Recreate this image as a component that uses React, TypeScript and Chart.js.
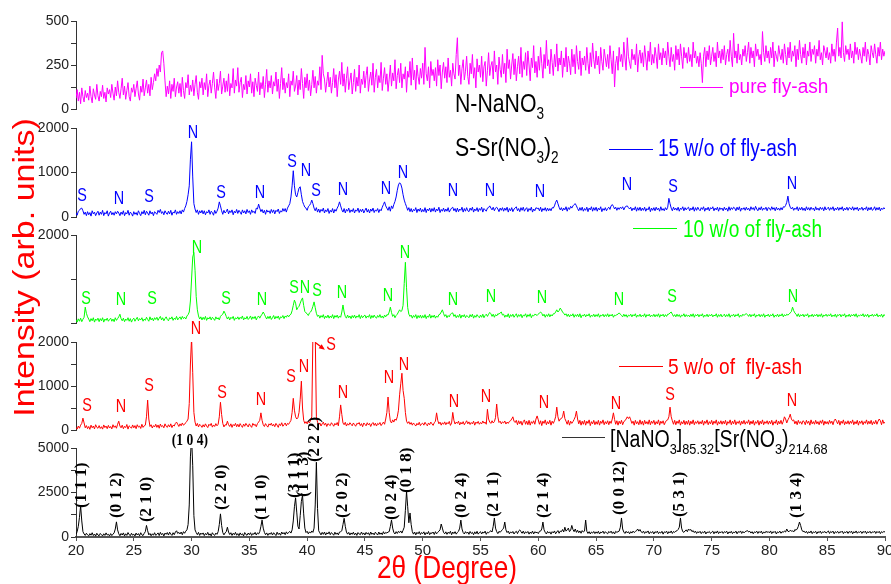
import React, { useEffect, useRef } from 'react';
import { Chart, registerables } from 'chart.js';

Chart.register(...registerables);

// ---- sampling grid (2θ, degrees) ----
const START = 20;
const STEP = 0.1;

// ---- tick labels ----
const xTicks = [20, 25, 30, 35, 40, 45, 50, 55, 60, 65, 70, 75, 80, 85, 90];
const pinkTicks = [0, 250, 500];
const blueTicks = [0, 1000, 2000];
const greenTicks = [2000];
const redTicks = [0, 1000, 2000];
const blackTicks = [0, 2500, 5000];

// ---- series values, one row per degree (x.0 ... x.9) ----
const pureFlyAsh = [
  60, 110, 45, 95, 30, 120, 70, 40, 105, 65,
  90, 50, 130, 70, 35, 115, 80, 55, 140, 75,
  45, 100, 70, 135, 60, 95, 40, 120, 85, 110,
  65, 140, 90, 50, 125, 75, 160, 95, 60, 115,
  175, 80, 130, 55, 105, 150, 70, 45, 120, 95,
  140, 70, 115, 160, 85, 50, 130, 95, 170, 75,
  120, 165, 90, 140, 75, 180, 110, 150, 200, 160,
  230, 185, 250, 210, 320, 330, 260, 160, 70, 130,
  85, 160, 60, 140, 100, 175, 70, 125, 155, 90,
  145, 70, 180, 105, 60, 150, 120, 195, 80, 135,
  100, 165, 75, 140, 190, 95, 55, 155, 120, 175,
  80, 150, 110, 200, 70, 135, 165, 90, 145, 210,
  120, 60, 170, 105, 145, 215, 85, 130, 175, 95,
  160, 100, 200, 75, 145, 120, 230, 90, 165, 130,
  235, 95, 150, 180, 65, 140, 110, 190, 85, 160,
  125, 200, 90, 155, 70, 175, 135, 100, 210, 80,
  150, 115, 185, 65, 140, 225, 95, 160, 120, 190,
  85, 155, 130, 210, 100, 170, 60, 145, 235, 110,
  175, 90, 150, 120, 200, 70, 160, 135, 215, 100,
  130, 190, 80, 165, 110, 230, 145, 60, 180, 120,
  200, 105, 165, 75, 140, 220, 120, 185, 90, 160,
  135, 240, 110, 305, 200, 170, 95, 155, 210, 125,
  180, 90, 150, 230, 120, 195, 70, 165, 215, 140,
  265, 130, 200, 95, 175, 240, 110, 160, 205, 85,
  150, 225, 100, 180, 130, 250, 90, 170, 140, 215,
  120, 190, 240, 100, 165, 210, 135, 260, 95, 180,
  225, 120, 190, 150, 265, 105, 175, 235, 140, 200,
  100, 170, 250, 130, 205, 160, 280, 115, 190, 230,
  150, 260, 120, 200, 170, 240, 95, 215, 180, 270,
  135, 290, 165, 220, 110, 250, 185, 140, 230, 175,
  260, 140, 350, 200, 160, 240, 120, 270, 190, 225,
  160, 235, 130, 280, 190, 250, 115, 210, 265, 175,
  240, 150, 290, 180, 220, 130, 260, 200, 170, 310,
  405, 190, 250, 140, 230, 280, 165, 215, 300, 185,
  140, 260, 200, 310, 175, 235, 120, 285, 210, 250,
  180, 300, 155, 240, 270, 130, 220, 320, 190, 245,
  270, 170, 330, 210, 250, 140, 295, 225, 180, 310,
  200, 260, 150, 340, 230, 280, 170, 250, 315, 195,
  285, 160, 240, 300, 200, 350, 180, 270, 225, 320,
  190, 330, 250, 160, 290, 235, 360, 205, 270, 180,
  300, 220, 350, 260, 175, 310, 230, 390, 245, 280,
  200, 340, 265, 190, 310, 240, 370, 215, 290, 250,
  330, 180, 290, 240, 350, 210, 300, 260, 195, 340,
  240, 310, 200, 360, 270, 225, 330, 190, 290, 250,
  300, 220, 350, 260, 200, 320, 240, 375, 280, 230,
  330, 250, 300, 200, 350, 270, 220, 340, 290, 240,
  310, 230, 360, 280, 200, 330, 125, 260, 300, 220,
  350, 270, 310, 240, 380, 290, 220, 405, 300, 260,
  230, 340, 280, 310, 250, 370, 210, 300, 335, 260,
  320, 240, 360, 290, 220, 330, 270, 380, 250, 310,
  260, 350, 300, 230, 370, 280, 320, 250, 345, 290,
  330, 250, 380, 300, 240, 350, 270, 310, 220, 360,
  280, 340, 250, 370, 300, 230, 350, 290, 320, 260,
  350, 270, 310, 240, 380, 290, 330, 260, 300, 240,
  320, 260, 150, 300, 350, 240, 330, 280, 360, 250,
  300, 350, 270, 320, 240, 380, 290, 330, 260, 340,
  280, 360, 250, 310, 340, 270, 390, 300, 240, 430,
  290, 330, 260, 370, 280, 310, 250, 340, 300, 360,
  270, 320, 380, 260, 350, 290, 330, 240, 370, 300,
  340, 280, 310, 250, 440, 320, 270, 360, 290, 330,
  260, 350, 290, 380, 240, 330, 300, 270, 360, 310,
  280, 340, 260, 370, 310, 250, 350, 290, 380, 270,
  330, 300, 360, 240, 340, 280, 390, 310, 260, 350,
  290, 370, 250, 330, 300, 380, 270, 340, 310, 360,
  260, 340, 300, 390, 280, 320, 250, 360, 330, 290,
  350, 280, 320, 260, 370, 300, 340, 270, 380, 460,
  300, 350, 290, 495, 320, 270, 360, 310, 340, 280,
  370, 290, 330, 260, 380, 310, 350, 280, 340, 300,
  260, 350, 300, 380, 270, 340, 310, 250, 360, 320,
  290, 370, 310, 260, 350, 300, 380, 280, 340, 300,
  330,
];

const fly15 = [
  90, 40, 130, 150, 190, 200, 140, 60, 110, 30,
  120, 50, 100, 20, 140, 70, 110, 30, 90, 130,
  40, 110, 60, 150, 30, 100, 70, 140, 20, 90,
  130, 50, 100, 40, 120, 70, 130, 90, 30, 110,
  60, 140, 30, 100, 70, 150, 40, 110, 80, 20,
  120, 60, 100, 40, 140, 80, 30, 120, 70, 150,
  50, 130, 90, 40, 140, 70, 110, 30, 120, 90,
  60, 150, 100, 170, 80, 120, 50, 140, 90, 60,
  130, 70, 150, 40, 110, 90, 160, 60, 120, 80,
  140, 70, 160, 110, 190, 250, 350, 500, 700, 1300,
  1690, 900, 300, 180, 100, 160, 60, 140, 90, 150,
  70, 140, 50, 120, 90, 160, 60, 130, 100, 40,
  150, 80, 130, 200, 340, 250, 140, 60, 150, 90,
  120, 180, 70, 140, 100, 160, 50, 130, 90, 170,
  80, 150, 110, 60, 160, 90, 140, 70, 170, 100,
  140, 60, 160, 100, 130, 80, 200, 180, 290, 200,
  120, 170, 90, 150, 60, 160, 110, 140, 80, 170,
  100, 160, 70, 150, 120, 180, 80, 140, 110, 190,
  130, 190, 110, 200, 250, 300, 450, 700, 1040, 700,
  500, 450, 550, 650, 680, 500, 350, 280, 220, 200,
  150, 230, 260, 300, 380, 300, 200, 140, 210, 110,
  180, 100, 170, 130, 200, 90, 160, 120, 190, 80,
  150, 110, 190, 90, 170, 130, 200, 250, 340, 250,
  160, 110, 190, 90, 170, 130, 200, 100, 160, 120,
  190, 90, 160, 130, 200, 100, 170, 120, 180, 90,
  150, 200, 110, 170, 90, 180, 130, 200, 100, 160,
  130, 190, 100, 170, 140, 220, 280, 340, 250, 200,
  150, 230, 130, 250, 190, 280, 350, 450, 600, 720,
  770, 740, 650, 500, 380, 300, 230, 150, 210, 120,
  190, 110, 170, 140, 210, 100, 180, 130, 200, 110,
  170, 120, 210, 100, 180, 140, 200, 110, 190, 130,
  210, 110, 180, 140, 220, 100, 170, 130, 200, 120,
  180, 130, 210, 110, 160, 200, 220, 140, 190, 110,
  200, 120, 180, 150, 220, 110, 190, 130, 210, 140,
  120, 200, 150, 220, 110, 180, 140, 210, 120, 190,
  150, 220, 110, 190, 160, 130, 200, 210, 250, 200,
  160, 220, 140, 200, 220, 180, 120, 200, 150, 210,
  130, 200, 150, 220, 110, 190, 140, 210, 120, 180,
  200, 230, 140, 190, 120, 210, 150, 220, 130, 180,
  210, 120, 190, 150, 220, 110, 180, 140, 210, 190,
  200, 140, 220, 120, 190, 150, 210, 130, 200, 140,
  190, 140, 210, 200, 250, 330, 380, 300, 220, 160,
  210, 140, 200, 160, 230, 130, 210, 170, 240, 200,
  250, 280, 300, 250, 190, 140, 210, 150, 220, 130,
  190, 150, 220, 120, 200, 160, 230, 130, 210, 150,
  220, 130, 200, 160, 230, 120, 190, 150, 210, 140,
  190, 220, 170, 250, 280, 240, 180, 220, 150, 210,
  170, 220, 190, 230, 160, 220, 240, 250, 210, 180,
  220, 140, 200, 160, 230, 130, 210, 150, 220, 140,
  200, 150, 220, 130, 190, 160, 230, 120, 200, 150,
  210, 140, 220, 160, 200, 130, 230, 150, 190, 140,
  210, 160, 220, 420, 300, 200, 140, 220, 160, 200,
  150, 220, 130, 200, 170, 230, 140, 210, 160, 200,
  220, 140, 200, 160, 230, 130, 210, 150, 220, 170,
  140, 210, 170, 230, 130, 200, 160, 220, 140, 210,
  180, 230, 140, 200, 160, 220, 130, 210, 170, 200,
  140, 220, 160, 200, 130, 230, 150, 210, 170, 220,
  200, 140, 220, 160, 230, 130, 200, 170, 210, 150,
  220, 160, 200, 140, 230, 170, 210, 150, 240, 180,
  140, 210, 160, 230, 150, 200, 170, 220, 140, 210,
  200, 150, 230, 170, 210, 140, 220, 160, 200, 150,
  210, 160, 230, 220, 260, 330, 470, 300, 220, 180,
  220, 150, 200, 170, 230, 140, 210, 160, 220, 150,
  200, 140, 230, 160, 210, 150, 220, 170, 200, 140,
  230, 160, 200, 150, 220, 170, 210, 140, 230, 160,
  190, 220, 150, 210, 170, 230, 140, 200, 160, 220,
  150, 210, 170, 230, 140, 200, 160, 220, 150, 210,
  200, 160, 230, 150, 210, 170, 220, 140, 200, 170,
  220, 150, 200, 170, 230, 140, 210, 160, 220, 150,
  170, 230, 150, 210, 160, 220, 140, 200, 170, 210,
  180,
];

const fly10 = [
  70, 20, 95, 40, 110, 30, 85, 130, 360, 220,
  140, 90, 30, 100, 50, 120, 20, 90, 60, 110,
  30, 100, 50, 120, 20, 90, 60, 110, 40, 80,
  110, 40, 90, 30, 120, 60, 100, 140, 200, 100,
  50, 110, 30, 90, 60, 120, 40, 100, 20, 80,
  110, 40, 90, 130, 50, 100, 70, 120, 40, 90,
  60, 130, 80, 40, 140, 70, 110, 50, 120, 80,
  130, 60, 110, 150, 70, 120, 50, 100, 140, 80,
  50, 120, 90, 140, 60, 110, 80, 150, 70, 110,
  140, 80, 150, 100, 130, 90, 160, 190, 250, 500,
  1000, 1500, 1600, 1200, 600, 300, 160, 90, 140, 70,
  130, 80, 150, 60, 120, 90, 140, 70, 130, 100,
  60, 140, 90, 120, 70, 150, 180, 200, 270, 220,
  150, 90, 140, 70, 130, 100, 150, 60, 120, 90,
  140, 80, 130, 100, 160, 70, 120, 90, 150, 80,
  110, 160, 80, 140, 100, 150, 70, 130, 160, 110,
  160, 200, 250, 200, 140, 90, 150, 100, 160, 80,
  120, 170, 90, 150, 110, 160, 80, 140, 120, 170,
  100, 160, 130, 180, 140, 180, 200, 280, 400, 520,
  450, 300, 350, 380, 450, 520, 570, 400, 260, 230,
  210, 170, 230, 250, 300, 380, 480, 350, 220, 150,
  180, 110, 170, 130, 190, 100, 160, 120, 180, 110,
  160, 120, 190, 100, 170, 130, 180, 110, 160, 130,
  250, 410, 250, 150, 110, 180, 120, 160, 100, 170,
  120, 180, 110, 160, 130, 190, 100, 170, 120, 160,
  180, 110, 160, 130, 190, 100, 170, 120, 180, 130,
  110, 170, 130, 190, 120, 160, 110, 180, 140, 190,
  180, 250, 360, 240, 150, 190, 120, 170, 200, 250,
  300, 260, 280, 400, 900, 1380, 800, 350, 200, 150,
  180, 110, 170, 130, 190, 100, 170, 120, 180, 110,
  170, 120, 190, 100, 160, 130, 200, 110, 170, 130,
  180, 110, 160, 130, 190, 200, 250, 300, 220, 150,
  190, 120, 170, 140, 200, 220, 230, 150, 190, 120,
  170, 130, 200, 110, 180, 140, 190, 120, 170, 150,
  120, 190, 140, 200, 110, 170, 130, 190, 150, 120,
  180, 130, 200, 120, 170, 200, 150, 200, 240, 210,
  150, 200, 130, 190, 160, 210, 200, 230, 250, 180,
  200, 130, 180, 140, 210, 120, 190, 150, 200, 130,
  170, 210, 130, 190, 150, 200, 120, 180, 160, 210,
  130, 190, 150, 210, 120, 180, 160, 200, 190, 170,
  200, 230, 250, 220, 160, 200, 130, 190, 150, 210,
  140, 190, 160, 210, 210, 250, 300, 250, 280, 340,
  300, 250, 220, 180, 210, 150, 200, 140, 190, 160,
  210, 130, 190, 150, 200, 140, 210, 120, 180, 160,
  200, 140, 190, 160, 210, 130, 180, 150, 200, 140,
  190, 150, 210, 130, 180, 160, 200, 140, 190, 150,
  210, 140, 190, 160, 200, 130, 180, 170, 190, 200,
  230, 200, 170, 140, 200, 150, 190, 130, 180, 160,
  200, 140, 190, 160, 210, 130, 180, 150, 200, 140,
  180, 150, 210, 130, 190, 160, 200, 140, 180, 150,
  200, 140, 190, 150, 210, 130, 190, 160, 200, 140,
  190, 150, 200, 200, 230, 250, 200, 150, 190, 140,
  200, 150, 190, 130, 180, 160, 210, 140, 190, 150,
  180, 140, 200, 150, 210, 130, 190, 160, 200, 140,
  190, 160, 210, 130, 180, 150, 200, 140, 190, 160,
  200, 140, 180, 160, 210, 130, 190, 150, 200, 140,
  170, 200, 140, 190, 150, 210, 130, 180, 160, 200,
  140, 190, 160, 210, 130, 180, 150, 200, 170, 200,
  210, 190, 150, 200, 140, 190, 160, 210, 130, 180,
  160, 200, 140, 190, 150, 210, 130, 180, 160, 200,
  140, 190, 160, 210, 130, 180, 150, 200, 140, 190,
  160, 210, 140, 190, 160, 200, 180, 200, 230, 260,
  360, 280, 230, 200, 150, 210, 140, 190, 160, 200,
  140, 190, 160, 210, 130, 180, 150, 200, 140, 190,
  160, 200, 140, 190, 150, 210, 130, 180, 160, 200,
  150, 190, 160, 210, 140, 180, 150, 200, 130, 190,
  170, 200, 140, 190, 160, 210, 130, 180, 150, 200,
  140, 190, 160, 200, 150, 210, 130, 180, 160, 190,
  160, 210, 140, 190, 150, 200, 130, 180, 160, 200,
  150, 190, 160, 210, 140, 180, 150, 200, 130, 190,
  170,
];

const fly5 = [
  60, 20, 90, 40, 110, 150, 270, 160, 50, 100,
  30, 80, 15, 110, 50, 90, 25, 120, 60, 40,
  100, 35, 75, 20, 115, 55, 90, 30, 105, 45,
  80, 25, 120, 60, 95, 40, 130, 200, 90, 50,
  110, 30, 85, 55, 125, 20, 95, 70, 40, 115,
  50, 100, 30, 120, 65, 90, 35, 130, 60, 95,
  110, 300, 680, 250, 80, 120, 45, 100, 70, 130,
  60, 115, 40, 135, 75, 100, 50, 140, 85, 60,
  120, 70, 140, 55, 110, 90, 150, 180, 130, 80,
  140, 95, 160, 110, 130, 170, 200, 250, 600, 1500,
  2100, 1300, 400, 180, 90, 150, 70, 130, 100, 60,
  120, 70, 140, 90, 55, 130, 100, 150, 65, 115,
  80, 145, 95, 130, 300, 630, 350, 150, 70, 120,
  110, 200, 120, 80, 140, 60, 125, 95, 150, 75,
  130, 70, 145, 100, 60, 135, 85, 150, 110, 70,
  140, 95, 60, 150, 105, 130, 75, 145, 180, 220,
  390, 220, 120, 80, 145, 100, 65, 140, 110, 155,
  90, 130, 75, 150, 110, 60, 140, 100, 165, 85,
  120, 160, 95, 150, 130, 175, 220, 400, 720, 450,
  300, 250, 280, 400, 700, 1110, 500, 220, 150, 190,
  140, 200, 160, 230, 300, 2200, 2300, 2200, 300, 180,
  120, 160, 90, 140, 180, 110, 155, 80, 145, 120,
  100, 165, 130, 85, 150, 115, 170, 95, 300, 570,
  350, 160, 120, 175, 90, 145, 110, 165, 130, 95,
  160, 120, 85, 150, 135, 170, 100, 145, 75, 160,
  130, 95, 165, 115, 150, 80, 140, 170, 105, 155,
  90, 150, 125, 170, 100, 140, 180, 130, 250, 400,
  750, 400, 200, 160, 230, 180, 250, 220, 300, 450,
  800, 1050, 1290, 900, 720, 400, 200, 150, 190, 130,
  170, 110, 160, 125, 90, 150, 115, 175, 100, 140,
  155, 110, 175, 130, 95, 160, 120, 180, 140, 105,
  165, 200, 390, 220, 140, 180, 110, 165, 130, 185,
  120, 170, 140, 195, 105, 160, 400, 220, 135, 180,
  150, 200, 115, 175, 135, 190, 120, 165, 210, 140,
  185, 125, 170, 140, 200, 110, 180, 150, 195, 130,
  170, 140, 205, 155, 180, 130, 470, 250, 180, 150,
  210, 160, 190, 280, 590, 300, 170, 200, 140, 185,
  160, 205, 135, 180, 150, 195, 210, 250, 300, 200,
  170, 220, 120, 210, 140, 200, 110, 190, 230, 130,
  200, 120, 220, 110, 190, 150, 210, 130, 250, 320,
  230, 130, 210, 100, 200, 150, 230, 120, 190, 140,
  220, 110, 200, 150, 210, 300, 520, 300, 200, 250,
  260, 300, 430, 260, 200, 130, 220, 110, 200, 150,
  190, 240, 300, 430, 250, 140, 220, 110, 200, 130,
  220, 110, 200, 150, 230, 100, 190, 140, 220, 120,
  190, 130, 220, 110, 200, 150, 230, 120, 190, 140,
  210, 120, 200, 150, 250, 390, 240, 130, 210, 110,
  200, 140, 220, 120, 190, 210, 250, 300, 260, 300,
  230, 150, 200, 110, 220, 140, 190, 120, 230, 130,
  200, 110, 220, 140, 190, 130, 230, 120, 200, 150,
  220, 120, 190, 140, 230, 110, 200, 150, 210, 120,
  180, 220, 230, 300, 520, 300, 210, 130, 220, 120,
  200, 150, 230, 110, 190, 140, 220, 120, 200, 130,
  220, 110, 200, 140, 230, 120, 190, 150, 210, 130,
  190, 140, 220, 110, 200, 150, 230, 120, 190, 140,
  220, 120, 200, 150, 230, 110, 190, 140, 210, 130,
  200, 140, 220, 110, 190, 150, 230, 120, 200, 140,
  230, 120, 190, 150, 210, 110, 200, 140, 220, 130,
  190, 150, 230, 120, 200, 140, 220, 110, 190, 150,
  220, 110, 200, 140, 230, 120, 190, 150, 210, 130,
  200, 140, 220, 110, 190, 150, 230, 120, 200, 140,
  220, 130, 200, 300, 250, 160, 230, 280, 360, 250,
  210, 230, 140, 200, 120, 220, 150, 190, 130, 210,
  190, 120, 220, 150, 200, 110, 230, 140, 190, 130,
  220, 140, 190, 120, 210, 150, 230, 110, 200, 140,
  190, 130, 220, 150, 200, 120, 210, 250, 200, 140,
  220, 110, 200, 150, 230, 120, 190, 140, 210, 130,
  200, 150, 230, 120, 190, 140, 220, 110, 200, 150,
  210, 120, 190, 150, 230, 130, 200, 140, 220, 120,
  190, 140, 220, 130, 200, 250, 210, 120, 230, 150,
  180,
];

const compound = [
  150, 300, 600, 1100, 1750, 900, 300, 170, 90, 210,
  120, 60, 190, 100, 240, 80, 170, 50, 210, 110,
  70, 200, 130, 60, 180, 90, 230, 110, 150, 60,
  190, 80, 160, 230, 450, 850, 400, 180, 70, 200,
  110, 230, 60, 180, 90, 250, 130, 70, 210, 100,
  160, 60, 220, 110, 190, 70, 240, 120, 80, 200,
  300, 650, 350, 120, 200, 70, 180, 100, 240, 90,
  150, 230, 80, 260, 130, 200, 60, 220, 150, 250,
  110, 270, 160, 90, 240, 130, 280, 350, 200, 260,
  170, 280, 130, 300, 210, 330, 400, 700, 1800, 4500,
  5600, 4000, 1200, 400, 250, 130, 260, 90, 220, 150,
  230, 80, 200, 120, 260, 100, 180, 60, 240, 140,
  90, 220, 150, 300, 700, 1300, 650, 250, 120, 230,
  300, 550, 280, 140, 240, 90, 210, 130, 260, 100,
  190, 70, 230, 120, 180, 60, 250, 140, 100, 220,
  130, 240, 90, 200, 150, 260, 110, 230, 170, 300,
  600, 950, 500, 260, 130, 230, 90, 210, 150, 250,
  110, 240, 160, 80, 270, 140, 220, 100, 280, 170,
  250, 130, 290, 180, 260, 310, 220, 400, 900, 1700,
  2200, 1400, 600, 450, 1200, 2000, 2350, 1300, 500, 250,
  320, 180, 290, 220, 340, 260, 500, 1800, 4200, 1600,
  350, 230, 120, 260, 150, 280, 110, 240, 170, 290,
  130, 250, 180, 100, 270, 150, 230, 120, 280, 300,
  350, 700, 1050, 600, 280, 160, 260, 110, 230, 150,
  270, 120, 220, 90, 250, 170, 130, 280, 140, 230,
  110, 260, 160, 240, 100, 280, 150, 220, 120, 270,
  190, 110, 280, 150, 230, 130, 300, 170, 260, 220,
  280, 300, 600, 950, 500, 260, 170, 300, 200, 320,
  250, 340, 220, 380, 550, 1500, 2550, 1700, 800, 1350,
  700, 300, 160, 280, 120, 260, 180, 300, 140, 250,
  190, 290, 120, 250, 170, 310, 130, 240, 200, 280,
  140, 300, 180, 260, 330, 400, 730, 500, 260, 180,
  290, 150, 270, 200, 320, 130, 280, 190, 300, 160,
  260, 320, 500, 950, 450, 250, 170, 300, 210, 280,
  150, 310, 200, 260, 130, 290, 180, 320, 160, 250,
  300, 170, 280, 220, 330, 150, 270, 230, 310, 350,
  280, 600, 1070, 500, 300, 190, 320, 260, 340, 420,
  500, 840, 400, 250, 330, 180, 290, 220, 310, 170,
  270, 320, 190, 340, 400, 300, 210, 330, 180, 290,
  230, 310, 160, 280, 200, 330, 170, 300, 240, 270,
  190, 320, 330, 450, 840, 400, 260, 170, 310, 220,
  290, 160, 300, 230, 340, 180, 280, 360, 210, 330,
  300, 420, 280, 550, 330, 400, 500, 300, 380, 650,
  420, 300, 450, 260, 380, 240, 340, 210, 360, 280,
  330, 950, 320, 200, 300, 170, 280, 220, 310, 190,
  290, 210, 320, 170, 280, 240, 330, 190, 300, 230,
  180, 310, 240, 330, 200, 290, 170, 320, 260, 300,
  330, 550, 1070, 450, 280, 200, 320, 230, 300, 180,
  300, 220, 330, 250, 310, 350, 450, 330, 420, 290,
  240, 330, 200, 300, 250, 340, 180, 290, 230, 310,
  170, 300, 240, 330, 190, 280, 220, 320, 160, 290,
  250, 330, 180, 300, 230, 340, 200, 310, 260, 330,
  350, 420, 550, 1070, 500, 300, 260, 340, 400, 300,
  450, 380, 420, 300, 360, 250, 330, 200, 300, 240,
  320, 190, 290, 230, 330, 170, 280, 250, 310, 200,
  270, 330, 180, 300, 220, 340, 190, 290, 240, 310,
  200, 300, 250, 330, 170, 290, 230, 320, 190, 280,
  240, 330, 180, 300, 260, 340, 200, 310, 230, 300,
  330, 360, 280, 320, 220, 300, 180, 290, 250, 330,
  200, 310, 240, 330, 180, 290, 220, 320, 260, 300,
  230, 340, 190, 300, 250, 320, 170, 290, 240, 330,
  210, 300, 260, 340, 280, 450, 320, 300, 380, 330,
  350, 280, 420, 380, 450, 600, 840, 650, 400, 300,
  330, 240, 320, 200, 300, 230, 340, 190, 290, 250,
  320, 180, 300, 240, 330, 200, 290, 260, 310, 220,
  280, 340, 200, 310, 250, 330, 180, 300, 240, 320,
  210, 300, 260, 330, 190, 290, 240, 320, 200, 310,
  250, 330, 180, 300, 230, 340, 210, 290, 260, 320,
  200, 310, 250, 330, 190, 300, 240, 320, 210, 290,
  260, 330, 200, 310, 240, 320, 190, 300, 250, 310,
  280,
];

// ---- peak markers: [2θ, intensity, phase letter] ----
type Mark = [number, number, string];
const bluePeaks: Mark[] = [
  [20.52, 472, 'S'], [23.72, 404, 'N'], [26.32, 449, 'S'], [30.12, 1887, 'N'],
  [32.55, 539, 'S'], [35.92, 539, 'N'], [38.69, 1236, 'S'], [39.9, 1034, 'N'],
  [40.77, 584, 'S'], [43.1, 607, 'N'], [46.82, 629, 'N'], [48.29, 989, 'N'],
  [52.62, 584, 'N'], [55.82, 584, 'N'], [60.15, 562, 'N'], [67.68, 719, 'N'],
  [71.66, 674, 'S'], [81.95, 742, 'N'],
];
const greenPeaks: Mark[] = [
  [20.87, 546, 'S'], [23.89, 523, 'N'], [26.58, 546, 'S'], [30.47, 1705, 'N'],
  [32.98, 546, 'S'], [36.09, 523, 'N'], [38.86, 796, 'S'], [39.81, 796, 'N'],
  [40.85, 727, 'S'], [43.02, 682, 'N'], [47.0, 614, 'N'], [48.47, 1591, 'N'],
  [52.62, 523, 'N'], [55.91, 591, 'N'], [60.32, 568, 'N'], [66.98, 523, 'N'],
  [71.57, 591, 'S'], [82.04, 591, 'N'],
];
const redPeaks: Mark[] = [
  [20.95, 544, 'S'], [23.89, 521, 'N'], [26.32, 997, 'S'], [30.38, 2288, 'N'],
  [32.63, 838, 'S'], [36.01, 680, 'N'], [38.6, 1200, 'S'], [39.73, 1427, 'N'],
  [42.06, 1925, 'S'], [43.1, 838, 'N'], [47.08, 1178, 'N'], [48.38, 1472, 'N'],
  [52.71, 634, 'N'], [55.48, 747, 'N'], [60.5, 612, 'N'], [66.73, 589, 'N'],
  [71.4, 793, 'S'], [81.95, 657, 'N'],
];
// Miller indices of the compound: [2θ, intensity at label foot, text]
const millerLabels: Mark[] = [
  [20.52, 1630, '(1 1 1)'], [23.55, 1070, '(0 1 2)'], [26.14, 840, '(2 1 0)'],
  [32.63, 1520, '(2 2 0)'], [36.09, 955, '(1 1 0)'], [38.95, 2190, '(3 1 1)'],
  [39.73, 2250, '(1 1 3)'], [40.68, 4210, '(2 2 2)'], [43.1, 1070, '(2 0 2)'],
  [47.34, 955, '(0 2 4)'], [48.64, 2470, '(0 1 8)'], [53.4, 1070, '(0 2 4)'],
  [56.17, 1120, '(2 1 1)'], [60.5, 1070, '(2 1 4)'], [67.07, 1240, '(0 0 12)'],
  [72.26, 1120, '(5 3 1)'], [82.39, 1070, '(1 3 4)'],
];
const millerTop: Mark[] = [[29.86, 5390, '(1 0 4)']];

// ---- layout / style constants ----
const W = 900;
const H = 584;
const PLOT_RIGHT = 885;
const AXIS_W = 76;
const SANS = "'Liberation Sans', Arial, sans-serif";
const SERIF = "'Liberation Serif', 'Times New Roman', serif";
const PINK = '#FF00FF';
const BLUE = '#0000FF';
const GREEN = '#00FF00';
const RED = '#FF0000';
const BLACK = '#000000';

function txt(
  ctx: CanvasRenderingContext2D, s: string, x: number, y: number, font: string, color: string,
  sx = 1, align: CanvasTextAlign = 'left', baseline: CanvasTextBaseline = 'alphabetic',
) {
  ctx.save();
  ctx.translate(x, y);
  ctx.scale(sx, 1);
  ctx.font = font;
  ctx.fillStyle = color;
  ctx.textAlign = align;
  ctx.textBaseline = baseline;
  ctx.fillText(s, 0, 0);
  ctx.restore();
}

// parts: [text, isSubscript]
function rich(
  ctx: CanvasRenderingContext2D, parts: [string, boolean][], x: number, y: number,
  size: number, subSize: number, drop: number, color: string, sx: number,
) {
  ctx.save();
  ctx.translate(x, y);
  ctx.scale(sx, 1);
  ctx.fillStyle = color;
  ctx.textBaseline = 'alphabetic';
  ctx.textAlign = 'left';
  let cx = 0;
  for (const [t, sub] of parts) {
    ctx.font = `${sub ? subSize : size}px ${SANS}`;
    ctx.fillText(t, cx, sub ? drop : 0);
    cx += ctx.measureText(t).width;
  }
  ctx.restore();
}

function legendLine(ctx: CanvasRenderingContext2D, x1: number, x2: number, y: number, color: string) {
  ctx.save();
  ctx.strokeStyle = color;
  ctx.lineWidth = 1;
  ctx.beginPath();
  ctx.moveTo(x1, y + 0.5);
  ctx.lineTo(x2, y + 0.5);
  ctx.stroke();
  ctx.restore();
}

function drawPeaks(chart: any, peaks: Mark[], color: string) {
  const { ctx, scales } = chart;
  for (const [t, v, s] of peaks) {
    txt(ctx, s, scales.x.getPixelForValue(t), scales.y.getPixelForValue(v), `18px ${SANS}`, color, 0.8, 'center', 'middle');
  }
}

interface Panel {
  key: string;
  values: number[];
  color: string;
  max: number;
  step: number;
  labels: number[];
  top: number;
  bottom: number;
  showX: boolean;
  draw: (chart: any) => void;
}

const panels: Panel[] = [
  {
    key: 'pure', values: pureFlyAsh, color: PINK, max: 500, step: 125, labels: pinkTicks,
    top: 21, bottom: 109, showX: false,
    draw: (chart) => {
      const ctx = chart.ctx;
      legendLine(ctx, 680, 723, 87, PINK);
      txt(ctx, 'pure fly-ash', 729, 93, `20px ${SANS}`, PINK, 0.95);
      rich(ctx, [['N-NaNO', false], ['3', true]], 455, 112, 25, 16, 7, BLACK, 0.85);
      rich(ctx, [['S-Sr(NO', false], ['3', true], [')', false], ['2', true]], 455, 156, 25, 16, 7, BLACK, 0.85);
    },
  },
  {
    key: 'w15', values: fly15, color: BLUE, max: 2000, step: 1000, labels: blueTicks,
    top: 128, bottom: 217, showX: false,
    draw: (chart) => {
      drawPeaks(chart, bluePeaks, BLUE);
      legendLine(chart.ctx, 609, 653, 149, BLUE);
      txt(chart.ctx, '15 w/o of fly-ash', 658, 156, `23px ${SANS}`, BLUE, 0.83);
    },
  },
  {
    key: 'w10', values: fly10, color: GREEN, max: 2000, step: 1000, labels: greenTicks,
    top: 235, bottom: 323, showX: false,
    draw: (chart) => {
      const ctx = chart.ctx;
      drawPeaks(chart, greenPeaks, GREEN);
      legendLine(ctx, 633, 677, 228, GREEN);
      txt(ctx, '10 w/o of fly-ash', 683, 237, `23px ${SANS}`, GREEN, 0.83);
      // y-axis title
      ctx.save();
      ctx.translate(34, 267.5);
      ctx.rotate(-Math.PI / 2);
      ctx.scale(1, 0.86);
      ctx.font = `34px ${SANS}`;
      ctx.fillStyle = RED;
      ctx.textAlign = 'center';
      ctx.textBaseline = 'alphabetic';
      ctx.fillText('Intensity (arb. units)', 0, 0);
      ctx.restore();
    },
  },
  {
    key: 'w5', values: fly5, color: RED, max: 2000, step: 500, labels: redTicks,
    top: 342, bottom: 430, showX: false,
    draw: (chart) => {
      const { ctx, scales } = chart;
      drawPeaks(chart, redPeaks, RED);
      legendLine(ctx, 619, 663, 366, RED);
      txt(ctx, '5 w/o of  fly-ash', 668, 374, `22px ${SANS}`, RED, 0.87);
      // pointer from the clipped peak to its marker
      const x1 = scales.x.getPixelForValue(40.7);
      const y1 = scales.y.getPixelForValue(1990);
      const x2 = scales.x.getPixelForValue(41.4);
      const y2 = scales.y.getPixelForValue(1850);
      ctx.save();
      ctx.strokeStyle = RED;
      ctx.fillStyle = RED;
      ctx.lineWidth = 1.3;
      ctx.beginPath();
      ctx.moveTo(x1, y1);
      ctx.lineTo(x2, y2);
      ctx.stroke();
      const a = Math.atan2(y2 - y1, x2 - x1);
      ctx.beginPath();
      ctx.moveTo(x2 + 2 * Math.cos(a), y2 + 2 * Math.sin(a));
      ctx.lineTo(x2 - 4 * Math.cos(a) + 2.5 * Math.sin(a), y2 - 4 * Math.sin(a) - 2.5 * Math.cos(a));
      ctx.lineTo(x2 - 4 * Math.cos(a) - 2.5 * Math.sin(a), y2 - 4 * Math.sin(a) + 2.5 * Math.cos(a));
      ctx.closePath();
      ctx.fill();
      ctx.restore();
    },
  },
  {
    key: 'cmp', values: compound, color: BLACK, max: 5000, step: 1250, labels: blackTicks,
    top: 448, bottom: 537, showX: true,
    draw: (chart) => {
      const { ctx, scales } = chart;
      for (const [t, v, s] of millerLabels) {
        ctx.save();
        ctx.translate(scales.x.getPixelForValue(t), scales.y.getPixelForValue(v));
        ctx.rotate(-Math.PI / 2);
        ctx.font = `bold 17px ${SERIF}`;
        ctx.fillStyle = BLACK;
        ctx.textAlign = 'left';
        ctx.textBaseline = 'middle';
        ctx.fillText(s, 0, 0);
        ctx.restore();
      }
      for (const [t, v, s] of millerTop) {
        txt(ctx, s, scales.x.getPixelForValue(t), scales.y.getPixelForValue(v), `bold 16px ${SERIF}`, BLACK, 0.85, 'center', 'middle');
      }
      legendLine(ctx, 562, 605, 437, '#333333');
      rich(ctx, [['[NaNO', false], ['3', true], [']', false], ['85.32', true], ['[Sr(NO', false], ['3', true], [')', false], ['214.68', true]],
        610, 447, 23, 15, 7, BLACK, 0.85);
      txt(ctx, '2θ (Degree)', 447, 578, `32px ${SANS}`, RED, 0.82, 'center');
    },
  },
];

function makeConfig(p: Panel): any {
  return {
    type: 'line',
    data: {
      datasets: [{
        data: p.values.map((y, i) => ({ x: Math.round((START + i * STEP) * 10) / 10, y })),
        borderColor: p.color,
        backgroundColor: p.color,
        borderWidth: 1,
        pointRadius: 0,
        tension: 0,
        fill: false,
      }],
    },
    options: {
      responsive: false,
      animation: false,
      devicePixelRatio: 1,
      layout: { padding: { left: 0, right: W - PLOT_RIGHT, top: p.top, bottom: p.showX ? 0 : H - p.bottom } },
      plugins: { legend: { display: false }, tooltip: { enabled: false } },
      scales: {
        x: {
          type: 'linear', min: 20, max: 90, display: p.showX,
          afterFit: (s: any) => { if (p.showX) s.height = H - p.bottom; },
          afterBuildTicks: (s: any) => { s.ticks = xTicks.map((v) => ({ value: v })); },
          ticks: { font: { family: SANS, size: 15 }, color: '#222', padding: 1, maxRotation: 0, autoSkip: false },
          grid: { drawOnChartArea: false, drawTicks: true, tickLength: 4, color: '#555' },
          border: { display: true, color: '#555', width: 2 },
        },
        y: {
          type: 'linear', min: 0, max: p.max,
          afterFit: (s: any) => { s.width = AXIS_W; },
          ticks: {
            stepSize: p.step, autoSkip: false, padding: 2, color: '#222',
            font: { family: SANS, size: 14 },
            callback: (v: number) => (p.labels.includes(v) ? String(v) : ''),
          },
          grid: { drawOnChartArea: false, drawTicks: true, tickLength: 5, color: '#333' },
          border: { display: true, color: '#333', width: 1 },
        },
      },
    },
    plugins: [{ id: `ann_${p.key}`, afterDraw: (chart: any) => p.draw(chart) }],
  };
}

export default function App() {
  const refs = useRef<(HTMLCanvasElement | null)[]>([]);
  useEffect(() => {
    const charts = panels.map((p, i) => new Chart(refs.current[i] as HTMLCanvasElement, makeConfig(p)));
    return () => charts.forEach((c) => c.destroy());
  }, []);
  return (
    <div style={{ position: 'fixed', left: 0, top: 0, width: 891, height: 584, overflow: 'hidden', background: '#fff' }}>
      {panels.map((p, i) => (
        <canvas
          key={p.key}
          ref={(el) => { refs.current[i] = el; }}
          width={W}
          height={H}
          style={{ position: 'absolute', left: 0, top: 0, width: W, height: H }}
        />
      ))}
    </div>
  );
}
